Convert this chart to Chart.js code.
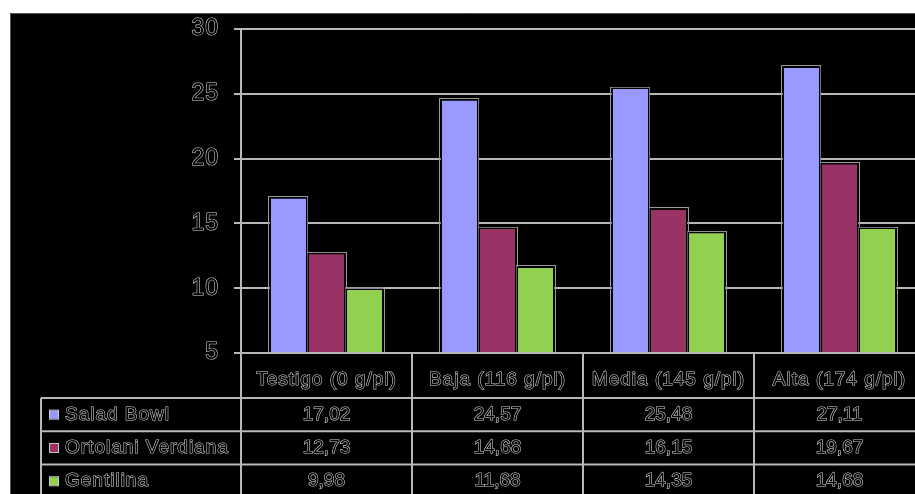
<!DOCTYPE html>
<html>
<head>
<meta charset="utf-8">
<script src="https://cdn.jsdelivr.net/npm/chart.js@4/dist/chart.umd.min.js"></script>
<style>
html,body{margin:0;padding:0;overflow:hidden;background:#fff;width:915px;height:494px;}
#wrap{position:absolute;left:0;top:0;width:930px;height:494px;}
</style>
</head>
<body>
<div id="wrap"><canvas id="c" width="930" height="494"></canvas></div>
<script>
const categories = ['Testigo (0 g/pl)', 'Baja (116 g/pl)', 'Media (145 g/pl)', 'Alta (174 g/pl)'];
const seriesNames = ['Salad Bowl', 'Ortolani Verdiana', 'Gentilina'];
const saladBowl = [17.02, 24.57, 25.48, 27.11];
const ortolaniVerdiana = [12.73, 14.68, 16.15, 19.67];
const gentilina = [9.98, 11.68, 14.35, 14.68];
const seriesColors = ['#9999FF', '#993366', '#92D050'];
const yMin = 5, yMax = 30, yStep = 5;

const seriesValues = [saladBowl, ortolaniVerdiana, gentilina];
const fmt = v => v.toFixed(2).replace('.', ',');

const TEXT_FILL = '#000';
const TEXT_STROKE = '#d4d4d4';
const STROKE_W = 1.1;
const LINE = '#b8b8b8';

function outlinedText(ctx, txt, x, y) {
  ctx.lineWidth = STROKE_W;
  ctx.strokeStyle = TEXT_STROKE;
  ctx.strokeText(txt, x, y);
  ctx.fillStyle = TEXT_FILL;
  ctx.fillText(txt, x, y);
}

const bgPlugin = {
  id: 'bg',
  beforeDraw(chart) {
    const ctx = chart.ctx;
    ctx.save();
    ctx.fillStyle = '#fff';
    ctx.fillRect(0, 0, chart.width, chart.height);
    ctx.fillStyle = '#000';
    ctx.fillRect(10, 13, chart.width - 10, chart.height - 13);
    ctx.strokeStyle = '#555';
    ctx.lineWidth = 1;
    ctx.beginPath();
    ctx.moveTo(10.5, chart.height);
    ctx.lineTo(10.5, 13.5);
    ctx.lineTo(chart.width, 13.5);
    ctx.stroke();
    ctx.restore();
    ctx.letterSpacing = '1px';
  },
  beforeDatasetsDraw(chart) {
    // light halo around each bar (drawn under the bars)
    const ctx = chart.ctx;
    const bottom = chart.chartArea.bottom;
    ctx.save();
    ctx.strokeStyle = '#9a9a9a';
    ctx.lineWidth = 1;
    chart.data.datasets.forEach((ds, di) => {
      chart.getDatasetMeta(di).data.forEach(bar => {
        const p = bar.getProps(['x', 'y', 'width'], true);
        const l = Math.round(p.x - p.width / 2) - 0.5;
        const r = Math.round(p.x + p.width / 2) + 0.5;
        const t = Math.round(p.y) - 0.5;
        ctx.strokeRect(l, t, r - l, bottom - t);
      });
    });
    ctx.restore();
  }
};

const tablePlugin = {
  id: 'table',
  afterDraw(chart) {
    const ctx = chart.ctx;
    const x = chart.scales.x;
    const area = chart.chartArea;
    const n = categories.length;
    const cw = (x.right - x.left) / n;
    const top = area.bottom;
    const headerBottom = top + 45;
    const rowH = 33.3;
    const tableLeft = 41;
    ctx.save();
    ctx.strokeStyle = LINE;
    ctx.lineWidth = 2;
    ctx.beginPath();
    ctx.moveTo(x.left, top); ctx.lineTo(chart.width, top);
    for (let r = 0; r <= seriesNames.length; r++) {
      const yy = headerBottom + r * rowH;
      ctx.moveTo(tableLeft, yy); ctx.lineTo(chart.width, yy);
    }
    ctx.moveTo(tableLeft, headerBottom); ctx.lineTo(tableLeft, chart.height);
    for (let i = 0; i <= n; i++) {
      const xx = x.left + i * cw;
      ctx.moveTo(xx, top); ctx.lineTo(xx, chart.height);
    }
    ctx.stroke();

    ctx.font = '19px "Liberation Sans", Arial, sans-serif';
    ctx.textBaseline = 'middle';
    for (let r = 0; r < seriesNames.length; r++) {
      const yc = headerBottom + r * rowH + rowH / 2;
      ctx.fillStyle = seriesColors[r];
      ctx.fillRect(50, yc - 4, 8, 8);
      ctx.strokeStyle = '#ccc';
      ctx.lineWidth = 1;
      ctx.strokeRect(49.5, yc - 4.5, 9, 9);
      ctx.textAlign = 'left';
      ctx.letterSpacing = '1px';
      outlinedText(ctx, seriesNames[r], 65, yc);
      ctx.textAlign = 'center';
      ctx.letterSpacing = '0px';
      for (let i = 0; i < n; i++) {
        outlinedText(ctx, fmt(seriesValues[r][i]), x.getPixelForValue(i), yc);
      }
    }
    ctx.restore();
  }
};

const datasets = seriesNames.map((name, i) => ({
  label: name,
  data: seriesValues[i],
  backgroundColor: seriesColors[i],
  borderColor: '#000',
  borderWidth: 1.5,
  categoryPercentage: 0.667,
  barPercentage: 1.0
}));

new Chart(document.getElementById('c'), {
  type: 'bar',
  data: { labels: categories, datasets },
  options: {
    responsive: false,
    animation: false,
    devicePixelRatio: 1,
    layout: { padding: { top: 29, right: 5, left: 0, bottom: 0 } },
    plugins: { legend: { display: false }, tooltip: { enabled: false } },
    scales: {
      x: {
        grid: { display: false, drawTicks: false },
        border: { display: false },
        ticks: {
          font: { family: '"Liberation Sans", Arial, sans-serif', size: 19 },
          color: TEXT_FILL,
          textStrokeColor: TEXT_STROKE,
          textStrokeWidth: STROKE_W,
          padding: 15,
          maxRotation: 0,
          autoSkip: false
        },
        afterFit: s => { s.height = 141; }
      },
      y: {
        min: yMin,
        max: yMax,
        grid: { color: LINE, lineWidth: 2, tickLength: 7 },
        border: { display: true, color: LINE, width: 2 },
        ticks: {
          stepSize: yStep,
          font: { family: '"Liberation Sans", Arial, sans-serif', size: 23 },
          color: TEXT_FILL,
          textStrokeColor: TEXT_STROKE,
          textStrokeWidth: STROKE_W,
          padding: 15
        },
        afterFit: s => { s.width = 241; }
      }
    }
  },
  plugins: [bgPlugin, tablePlugin]
});
</script>
</body>
</html>
